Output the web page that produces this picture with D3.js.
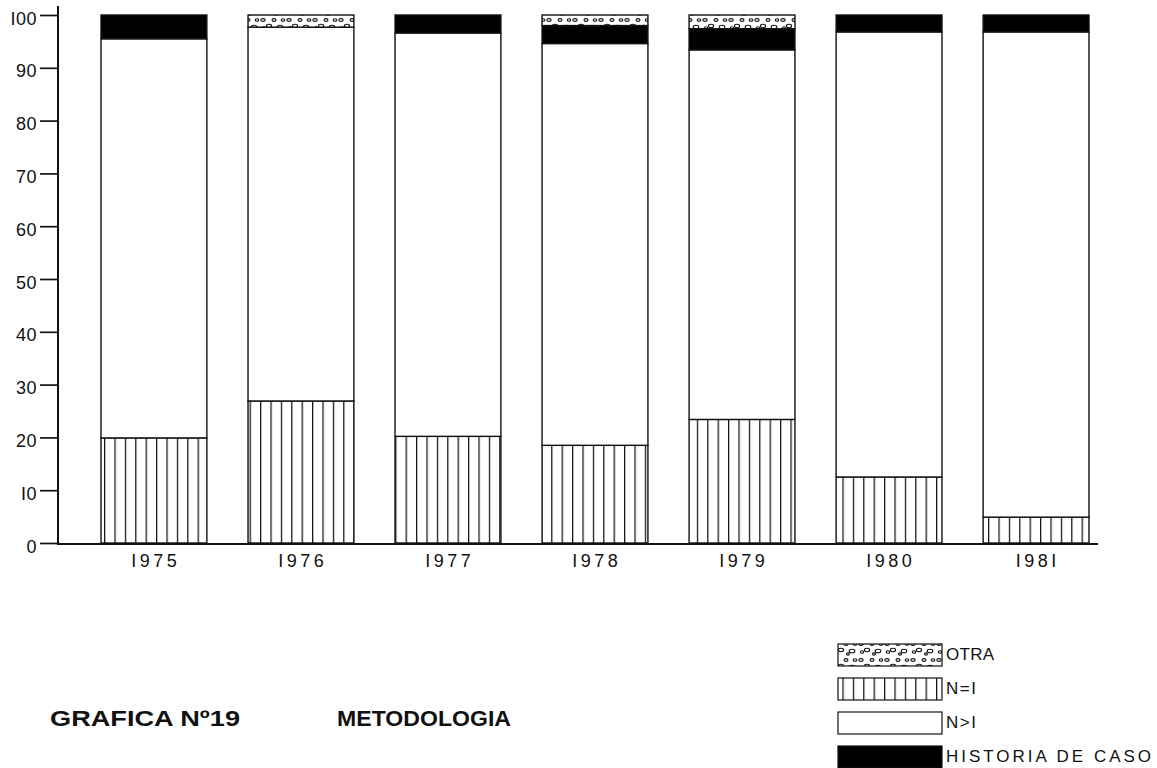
<!DOCTYPE html>
<html>
<head>
<meta charset="utf-8">
<script src="https://cdn.jsdelivr.net/npm/d3@7"></script>
<style>
  html, body { margin: 0; padding: 0; background: #fff; }
  svg { display: block; }
  text { font-family: "Liberation Sans", Arial, sans-serif; fill: #111; }
</style>
</head>
<body>
<svg id="chart" width="1157" height="768"></svg>
<script>
// ---- data ----
const years = ["1975", "1976", "1977", "1978", "1979", "1980", "1981"];
const nIgual1 = [19.9, 26.9, 20.2, 18.5, 23.4, 12.5, 4.9];
const historiaCaso = [4.5, 0, 3.4, 3.4, 4.0, 3.2, 3.2];
const otra = [0, 2.3, 0, 2.0, 2.6, 0, 0];
const nMayor1 = years.map((y, i) => 100 - nIgual1[i] - historiaCaso[i] - otra[i]);
const yTicks = [0, 10, 20, 30, 40, 50, 60, 70, 80, 90, 100];
const seriesKeys = ["n1", "nmas", "hist", "otra"];
const legendItems = [
  { key: "otra", label: "OTRA" },
  { key: "n1", label: "N=I" },
  { key: "nmas", label: "N>I" },
  { key: "hist", label: "HISTORIA DE CASO" }
];

const rows = years.map((y, i) => ({ year: y, n1: nIgual1[i], nmas: nMayor1[i], hist: historiaCaso[i], otra: otra[i] }));

const svg = d3.select("#chart");
const defs = svg.append("defs");

// vertical hatch
const ph = defs.append("pattern").attr("id", "hatch").attr("patternUnits", "userSpaceOnUse")
  .attr("width", 10.4).attr("height", 20);
ph.append("rect").attr("width", 10.4).attr("height", 20).attr("fill", "#fff");
ph.append("line").attr("x1", 0.6).attr("x2", 0.6).attr("y1", 0).attr("y2", 20)
  .attr("stroke", "#111").attr("stroke-width", 1.3);

// bubbly "otra" pattern
const po = defs.append("pattern").attr("id", "bubbles").attr("patternUnits", "userSpaceOnUse")
  .attr("width", 26).attr("height", 16);
po.append("rect").attr("width", 26).attr("height", 16).attr("fill", "#fff");
[[3, 4, 2.2, 1.4], [9, 10, 2.6, 1.7], [14, 4, 2.0, 1.4], [20, 11, 2.8, 1.8], [23, 4, 1.8, 1.3], [4, 12, 1.7, 1.3], [16, 14, 1.5, 1.1]]
  .forEach(([cx, cy, rx, ry]) => po.append("ellipse").attr("cx", cx).attr("cy", cy).attr("rx", rx).attr("ry", ry)
    .attr("fill", "none").attr("stroke", "#111").attr("stroke-width", 1.1));

const fills = { n1: "url(#hatch)", nmas: "#fff", hist: "#000", otra: "url(#bubbles)" };

const x = d3.scaleBand().domain(years).range([101, 1089]).paddingInner(0.28).paddingOuter(0);
const y = d3.scaleLinear().domain([0, 100]).range([543, 15]);

const stacked = d3.stack().keys(seriesKeys)(rows);

// bars
const g = svg.append("g");
stacked.forEach(s => {
  g.selectAll(null).data(s.filter(d => d[1] - d[0] > 0)).enter().append("rect")
    .attr("x", d => x(d.data.year))
    .attr("y", d => y(d[1]))
    .attr("width", x.bandwidth())
    .attr("height", d => y(d[0]) - y(d[1]))
    .attr("fill", fills[s.key])
    .attr("stroke", "#111")
    .attr("stroke-width", 1.4);
});

// y axis
const yAxis = d3.axisLeft(y).tickValues(yTicks).tickSize(18).tickPadding(3)
  .tickFormat(d => String(d).replace(/1/g, "I"));
const ya = svg.append("g").attr("transform", "translate(58,0)").call(yAxis);
ya.select(".domain").remove();
ya.selectAll(".tick line").attr("stroke", "#111").attr("stroke-width", 1.7);
ya.selectAll(".tick text").attr("font-size", 18).attr("fill", "#111").attr("letter-spacing", "0.5px")
  .attr("dy", "0.5em");
svg.append("line").attr("x1", 58).attr("x2", 58).attr("y1", 6).attr("y2", 544)
  .attr("stroke", "#111").attr("stroke-width", 2);

// x axis
const xAxis = d3.axisBottom(x).tickSize(0).tickPadding(11).tickFormat(d => d.replace(/1/g, "I"));
const xa = svg.append("g").attr("transform", "translate(0,543)").call(xAxis);
xa.select(".domain").remove();
xa.selectAll(".tick text").attr("font-size", 18).attr("fill", "#111").attr("letter-spacing", "3.5px")
  .attr("dx", "1.75px");
svg.append("line").attr("x1", 57).attr("x2", 1098).attr("y1", 544).attr("y2", 544)
  .attr("stroke", "#111").attr("stroke-width", 2.2);

// title
svg.append("text").attr("x", 50).attr("y", 726).attr("font-size", 22).attr("font-weight", "bold")
  .attr("textLength", 190).attr("lengthAdjust", "spacingAndGlyphs").text("GRAFICA  Nº19");
svg.append("text").attr("x", 337).attr("y", 726).attr("font-size", 22).attr("font-weight", "bold")
  .attr("textLength", 174).attr("lengthAdjust", "spacingAndGlyphs").text("METODOLOGIA");

// legend
const legY = d3.scaleBand().domain(legendItems.map(d => d.key)).range([644, 768]).paddingInner(0.353).paddingOuter(0);
const legLen = { otra: 48, n1: 30, nmas: 30, hist: 205 };
const lg = svg.append("g");
legendItems.forEach(it => {
  lg.append("rect").attr("x", 838).attr("y", legY(it.key)).attr("width", 104).attr("height", legY.bandwidth())
    .attr("fill", fills[it.key]).attr("stroke", "#111").attr("stroke-width", 1.2);
  lg.append("text").attr("x", 946).attr("y", legY(it.key) + 16)
    .attr("font-size", 17).attr("textLength", legLen[it.key]).attr("lengthAdjust", "spacing")
    .text(it.label);
});
</script>
</body>
</html>
